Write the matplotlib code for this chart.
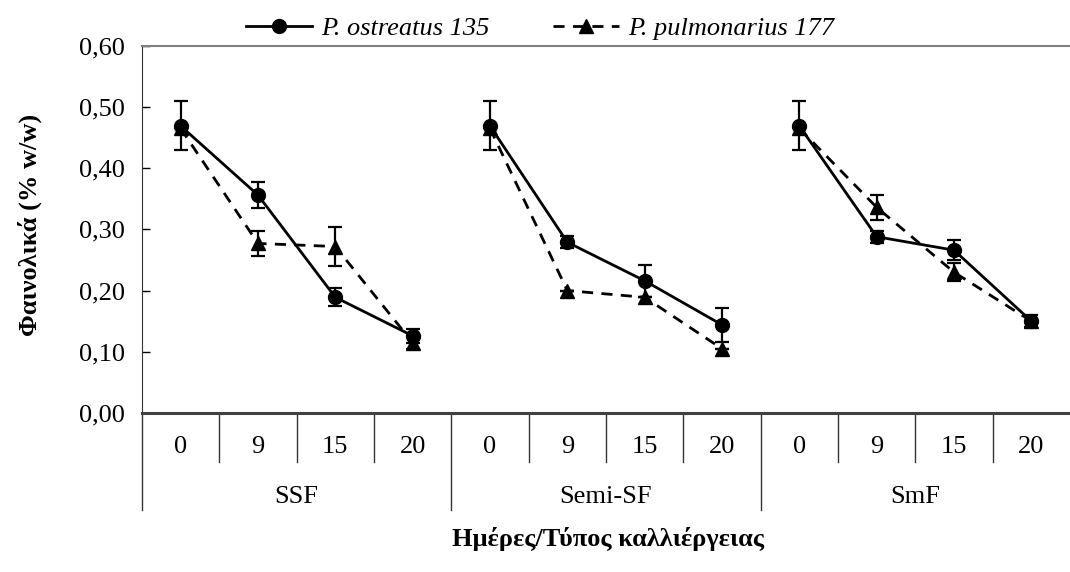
import numpy as np
import matplotlib.pyplot as plt
from matplotlib.lines import Line2D
from matplotlib.transforms import blended_transform_factory

plt.rcParams['font.family'] = ['Liberation Serif', 'DejaVu Serif']

# Sampling days within each cultivation type
days = ["0", "9", "15", "20"]
cultures = ["SSF", "Semi-SF", "SmF"]

# Phenolics content (% w/w) and standard deviations
ostreatus = [0.469, 0.356, 0.189, 0.126,
             0.469, 0.279, 0.216, 0.144,
             0.469, 0.288, 0.266, 0.150]
ostreatus_err = [0.040, 0.021, 0.015, 0.012,
                 0.040, 0.010, 0.026, 0.028,
                 0.040, 0.010, 0.016, 0.010]
pulmonarius = [0.465, 0.277, 0.272, 0.115,
               0.465, 0.200, 0.189, 0.105,
               0.465, 0.336, 0.230, 0.150]
pulmonarius_err = [0.000, 0.020, 0.032, 0.010,
                   0.000, 0.000, 0.000, 0.000,
                   0.000, 0.020, 0.015, 0.000]

x = np.arange(len(ostreatus))
fs = 19
dash = (0, (4, 3))

fig = plt.figure(figsize=(10.7, 5.72), dpi=100)
ax = fig.add_axes([0.1327, 0.278, 0.8673, 0.642])

# each culture type is drawn as its own line segment
for g in range(len(cultures)):
    s = slice(g * 4, g * 4 + 4)
    ax.errorbar(x[s], pulmonarius[s], yerr=pulmonarius_err[s], color='black',
                linestyle=dash, linewidth=2, marker='^', markersize=10,
                capsize=5, elinewidth=1.6, capthick=1.6)
    ax.errorbar(x[s], ostreatus[s], yerr=ostreatus_err[s], color='black',
                linestyle='-', linewidth=2, marker='o', markersize=10,
                capsize=5, elinewidth=1.6, capthick=1.6)

ax.set_xlim(-0.5, len(x) - 0.5)
ax.set_ylim(0, 0.6)
yt = np.arange(0, 0.61, 0.1)
ax.set_yticks(yt)
ax.set_yticklabels([f"{v:.2f}".replace('.', ',') for v in yt], fontsize=fs)
ax.tick_params(axis='y', direction='in', length=6, width=1, pad=12)
ax.set_xticks([])

ax.spines['right'].set_visible(False)
ax.spines['top'].set_color('#808080')
ax.spines['top'].set_linewidth(1.5)
ax.spines['left'].set_color('#333333')
ax.spines['bottom'].set_color('#404040')
ax.spines['bottom'].set_linewidth(2.2)

# two-level category axis below the plot
trans = blended_transform_factory(ax.transData, ax.transAxes)
for i in range(len(x)):
    ax.text(x[i], -0.093, days[i % 4], transform=trans, ha='center',
            va='center', fontsize=fs)
for i in range(1, len(x)):
    bottom = -0.264 if i % 4 == 0 else -0.134
    ax.plot([i - 0.5, i - 0.5], [0, bottom], transform=trans, color='#333333',
            linewidth=1, clip_on=False)
ax.plot([-0.5, -0.5], [0, -0.264], transform=trans, color='#333333',
        linewidth=1, clip_on=False)
for g, name in enumerate(cultures):
    ax.text(g * 4 + 1.5, -0.229, name, transform=trans, ha='center',
            va='center', fontsize=fs)

fig.text(0.568, 0.058, "Ημέρες/Τύπος καλλιέργειας", ha='center', va='center',
         fontsize=fs, fontweight='bold')
fig.text(0.028, 0.607, "Φαινολικά (% w/w)", ha='center', va='center',
         rotation=90, fontsize=fs, fontweight='bold')

handles = [Line2D([], [], color='black', linewidth=2, marker='o', markersize=10),
           Line2D([], [], color='black', linewidth=2, linestyle=dash,
                  marker='^', markersize=10)]
labels = ["P. ostreatus 135", "P. pulmonarius 177"]
fig.legend(handles, labels, loc='center', bbox_to_anchor=(0.505, 0.951),
           ncol=2, frameon=False, handlelength=2.5, columnspacing=2.4,
           handletextpad=0.35, prop={'style': 'italic', 'size': fs})

fig.savefig("out.png", dpi=100)
